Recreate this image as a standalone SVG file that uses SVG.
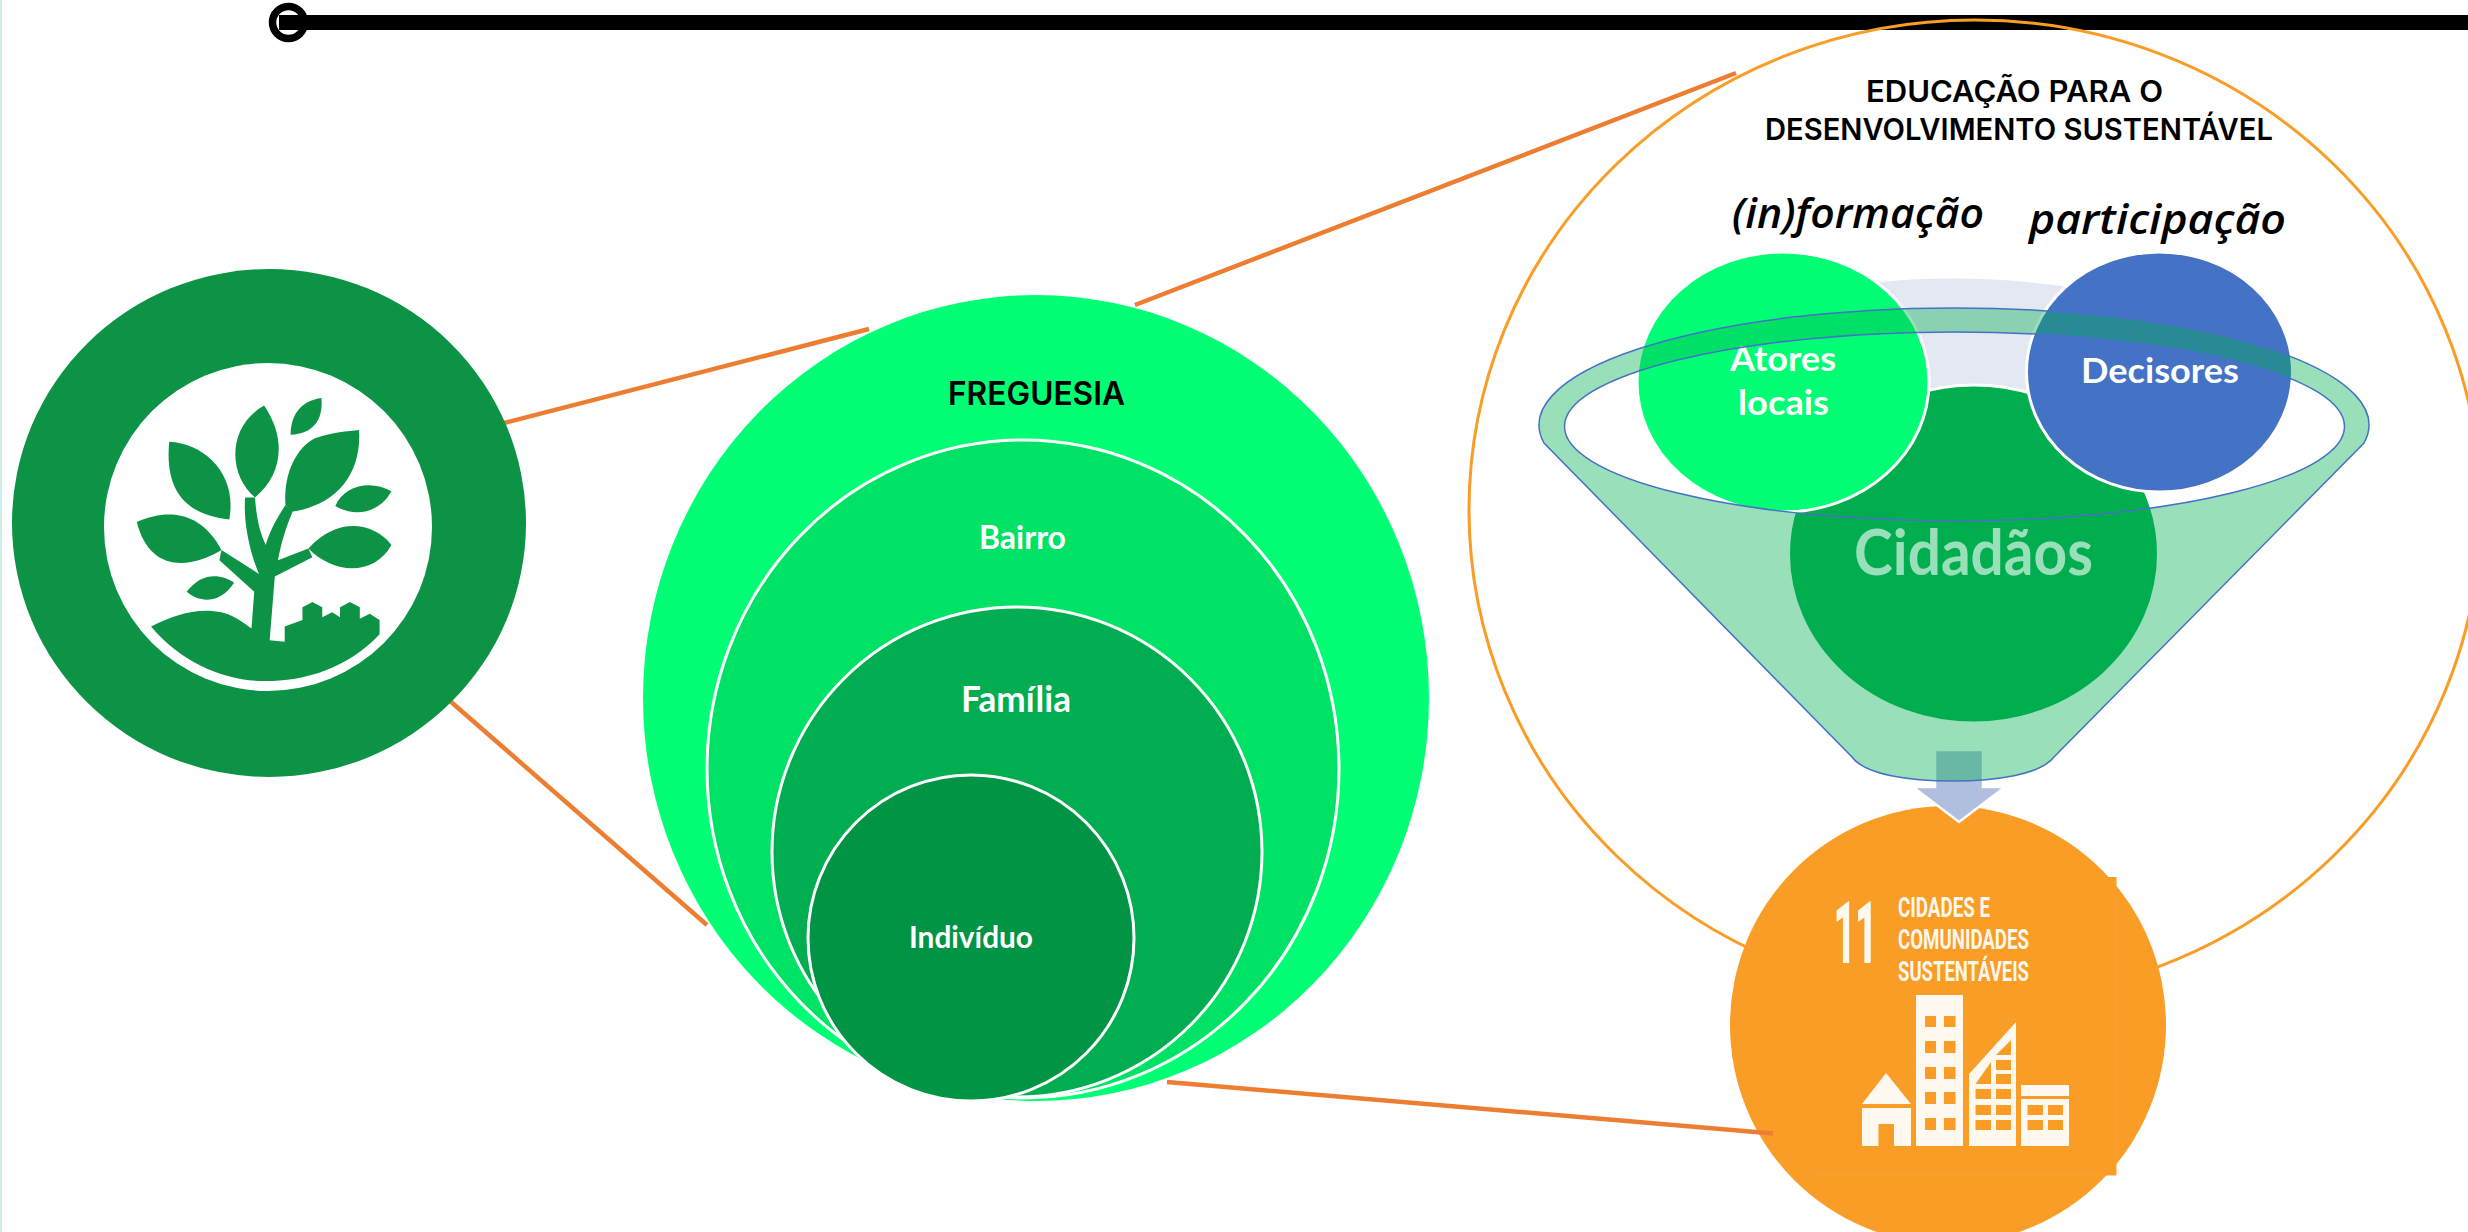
<svg xmlns="http://www.w3.org/2000/svg" width="2468" height="1232" viewBox="0 0 2468 1232">
<style>
.con{stroke:#ED7D31;stroke-width:4.5;fill:none}
.ws{stroke:#fff;stroke-width:3}
.lab{font-family:Lato,"Open Sans","Liberation Sans",sans-serif;font-weight:700;fill:#fff}
.geo{font-family:Inter,"Liberation Sans",sans-serif;font-weight:600;fill:#000}
.it{font-family:"Open Sans","Liberation Sans",sans-serif;font-weight:600;font-style:italic;fill:#000;font-size:41px}
.sdg{font-family:Roboto,"Liberation Sans",sans-serif;font-weight:700;fill:#FFF8EE;font-size:27px}
.g{fill:#0D9345}
.w{fill:#FFF8EE}
.o{fill:#F99D26}
</style>
<rect width="2468" height="1232" fill="#fff"/>
<rect width="2" height="1232" fill="#CFEEE6"/>
<g id="header">
<rect x="279" y="15" width="2189" height="15" fill="#000"/>
<ellipse cx="288.500" cy="22.500" rx="16" ry="16" fill="none" stroke="#000" stroke-width="7.500"/>
</g>
<g id="connectors">
<line class="con" x1="504" y1="423" x2="869" y2="329"/>
<line class="con" x1="450" y1="701" x2="707" y2="925"/>
<line class="con" x1="1135" y1="305" x2="1736" y2="73"/>
</g>
<g id="logo">
<ellipse cx="269" cy="523" rx="257" ry="254" class="g"/>
<ellipse cx="268" cy="527" rx="164" ry="164" fill="#fff"/>
<g transform="scale(0.3954,0.5102)" class="g">
<path d="M428,866C520,870 600,930 580,1018C480,1010 415,970 428,866Z"/>
<path d="M668,795C725,860 715,930 645,975C575,930 575,835 668,795Z"/>
<path d="M813,780C818,825 790,850 735,852C735,810 765,785 813,780Z"/>
<path d="M908,843C915,930 850,990 738,1003L722,990C715,920 760,870 800,858C840,848 880,845 908,843Z"/>
<path d="M990,963C960,1005 900,1015 848,992C870,950 940,940 990,963Z"/>
<path d="M346,1023C430,995 510,1005 560,1078C470,1120 375,1115 346,1023Z"/>
<path d="M990,1068C950,1125 850,1130 780,1075C850,1015 940,1020 990,1068Z"/>
<path d="M472,1160C510,1120 560,1125 592,1142C560,1180 510,1185 472,1160Z"/>
<path d="M382,1228C440,1205 500,1190 560,1200C590,1205 615,1220 636,1232L643,1160L555,1098L560,1078L655,1125C630,1080 615,1020 620,975L645,975C648,1010 655,1040 672,1068C685,1035 705,1010 722,990L740,1003C725,1030 712,1060 703,1098L780,1075L790,1092L695,1130L682,1255L720,1258L720,1228L765,1215L765,1190L790,1180L815,1190L815,1210L840,1200L860,1210L860,1190L885,1180L910,1190L910,1213L935,1203L960,1215L960,1243C880,1310 770,1335 670,1335C570,1335 460,1300 382,1228Z"/>
</g>
</g>
<g id="freguesia">
<ellipse cx="1036" cy="698" rx="393" ry="403" fill="#00FF75"/>
<text class="geo" x="948" y="405" font-size="33" textLength="177" lengthAdjust="spacingAndGlyphs">FREGUESIA</text>
</g>
<g id="bairro">
<ellipse cx="1023" cy="769" rx="316" ry="329" fill="#00E266" class="ws"/>
<text class="lab" x="979" y="549" font-size="33" textLength="87" lengthAdjust="spacingAndGlyphs">Bairro</text>
</g>
<g id="familia">
<ellipse cx="1017" cy="852" rx="245" ry="245" fill="#00AD50" class="ws"/>
<text class="lab" x="961" y="712" font-size="36" textLength="110" lengthAdjust="spacingAndGlyphs">Família</text>
</g>
<g id="individuo">
<ellipse cx="971" cy="938" rx="163" ry="163" fill="#009444" class="ws"/>
<text class="lab" x="909" y="948" font-size="30" textLength="124" lengthAdjust="spacingAndGlyphs">Indivíduo</text>
</g>
<g id="educacao">
<ellipse cx="1975" cy="510" rx="506" ry="490" fill="none" stroke="#F99D26" stroke-width="3"/>
<text class="geo" x="1866" y="102" font-size="30" textLength="297" lengthAdjust="spacingAndGlyphs">EDUCAÇÃO PARA O</text>
<text class="geo" x="1765" y="140" font-size="30" textLength="508" lengthAdjust="spacingAndGlyphs">DESENVOLVIMENTO SUSTENTÁVEL</text>
<text class="it" x="1732" y="228" textLength="252" lengthAdjust="spacingAndGlyphs">(in)formação</text>
<text class="it" x="2029" y="234" textLength="257" lengthAdjust="spacingAndGlyphs">participação</text>
</g>
<g id="funil-fundo">
<path d="M1870,283Q1973,272 2075,288L2075,420L1870,420Z" fill="#E4E8F3"/>
</g>
<g id="cidadaos">
<ellipse cx="1973.500" cy="554" rx="185" ry="169" fill="#00AE50" class="ws"/>
<text class="lab" x="1854" y="575" font-size="64" textLength="239" lengthAdjust="spacingAndGlyphs">Cidadãos</text>
</g>
<g id="atores">
<ellipse cx="1783" cy="382" rx="146" ry="130" fill="#00FF75" class="ws"/>
<text class="lab" x="1730" y="371" font-size="35" textLength="106" lengthAdjust="spacingAndGlyphs">Atores</text>
<text class="lab" x="1738" y="415" font-size="35" textLength="91" lengthAdjust="spacingAndGlyphs">locais</text>
</g>
<g id="decisores">
<ellipse cx="2159.500" cy="372" rx="133" ry="120" fill="#4472C4" class="ws"/>
<text class="lab" x="2081" y="383" font-size="35" textLength="158" lengthAdjust="spacingAndGlyphs">Decisores</text>
</g>
<g id="ods11">
<ellipse cx="1948" cy="1025" rx="218" ry="219" class="o"/>
<rect x="1811" y="877" width="305" height="298" class="o"/>
<path d="M2116,877V1175H1811" fill="none" stroke="#FAA133" stroke-width="1"/>
<text x="1834" y="962" font-family="Roboto,'Liberation Sans',sans-serif" font-weight="700" font-size="84" fill="#FFF8EE" stroke="#FFF8EE" stroke-width="2" textLength="43" lengthAdjust="spacingAndGlyphs">11</text>
<text class="sdg" x="1898" y="917" textLength="92" lengthAdjust="spacingAndGlyphs">CIDADES E</text>
<text class="sdg" x="1898" y="949" textLength="131" lengthAdjust="spacingAndGlyphs">COMUNIDADES</text>
<text class="sdg" x="1898" y="981" textLength="131" lengthAdjust="spacingAndGlyphs">SUSTENTÁVEIS</text>
<path class="w" d="M1886,1073L1911,1104H1862Z"/>
<path class="w" fill-rule="evenodd" d="M1862,1108H1911V1146H1894V1124H1878.500V1146H1862Z"/>
<path class="w" fill-rule="evenodd" d="M1916,995H1963V1146H1916ZM1925,1016V1027H1936V1016ZM1944,1016V1027H1955.500V1016ZM1925,1041V1053H1936V1041ZM1944,1041V1053H1955.500V1041ZM1925,1067V1079H1936V1067ZM1944,1067V1079H1955.500V1067ZM1925,1092V1104H1936V1092ZM1944,1092V1104H1955.500V1092ZM1925,1118V1130H1936V1118ZM1944,1118V1130H1955.500V1118Z"/>
<path class="w" fill-rule="evenodd" d="M2016,1022V1146H1969V1074ZM1996,1060V1070H2011V1060ZM1996,1074V1084H2011V1074ZM1996,1089V1099H2011V1089ZM1975.500,1089V1099H1991V1089ZM1996,1105V1115H2011V1105ZM1975.500,1105V1115H1991V1105ZM1996,1120V1130H2011V1120ZM1975.500,1120V1130H1991V1120ZM1996,1055H2011V1040ZM1975.500,1084H1991V1062Z"/>
<path class="w" fill-rule="evenodd" d="M2021,1085H2069V1096H2021ZM2021,1099H2069V1146H2021ZM2027.500,1105V1115H2043V1105ZM2048,1105V1115H2063V1105ZM2027.500,1120V1130H2043V1120ZM2048,1120V1130H2063V1120Z"/>
</g>
<g id="seta">
<path d="M1935,750H1983V787H2005L1959,822L1913,787H1935Z" fill="#B0BEDF" stroke="#fff" stroke-width="2.500"/>
</g>
<g id="funil">
<path fill-rule="evenodd" fill="#00AE50" fill-opacity="0.4" stroke="#4472C4" stroke-width="1.500" d="M1544,443A415,117 0 1 1 2364,443L2054,757C2040,775 1995,781 1953,781C1910,781 1865,775 1852,757ZM1564.500,426.500A390,94.500 0 1 0 2344.500,426.500A390,94.500 0 1 0 1564.500,426.500Z"/>
</g>
<g id="connector-ods">
<line class="con" x1="1167" y1="1082" x2="1773" y2="1133.500"/>
</g>
</svg>
